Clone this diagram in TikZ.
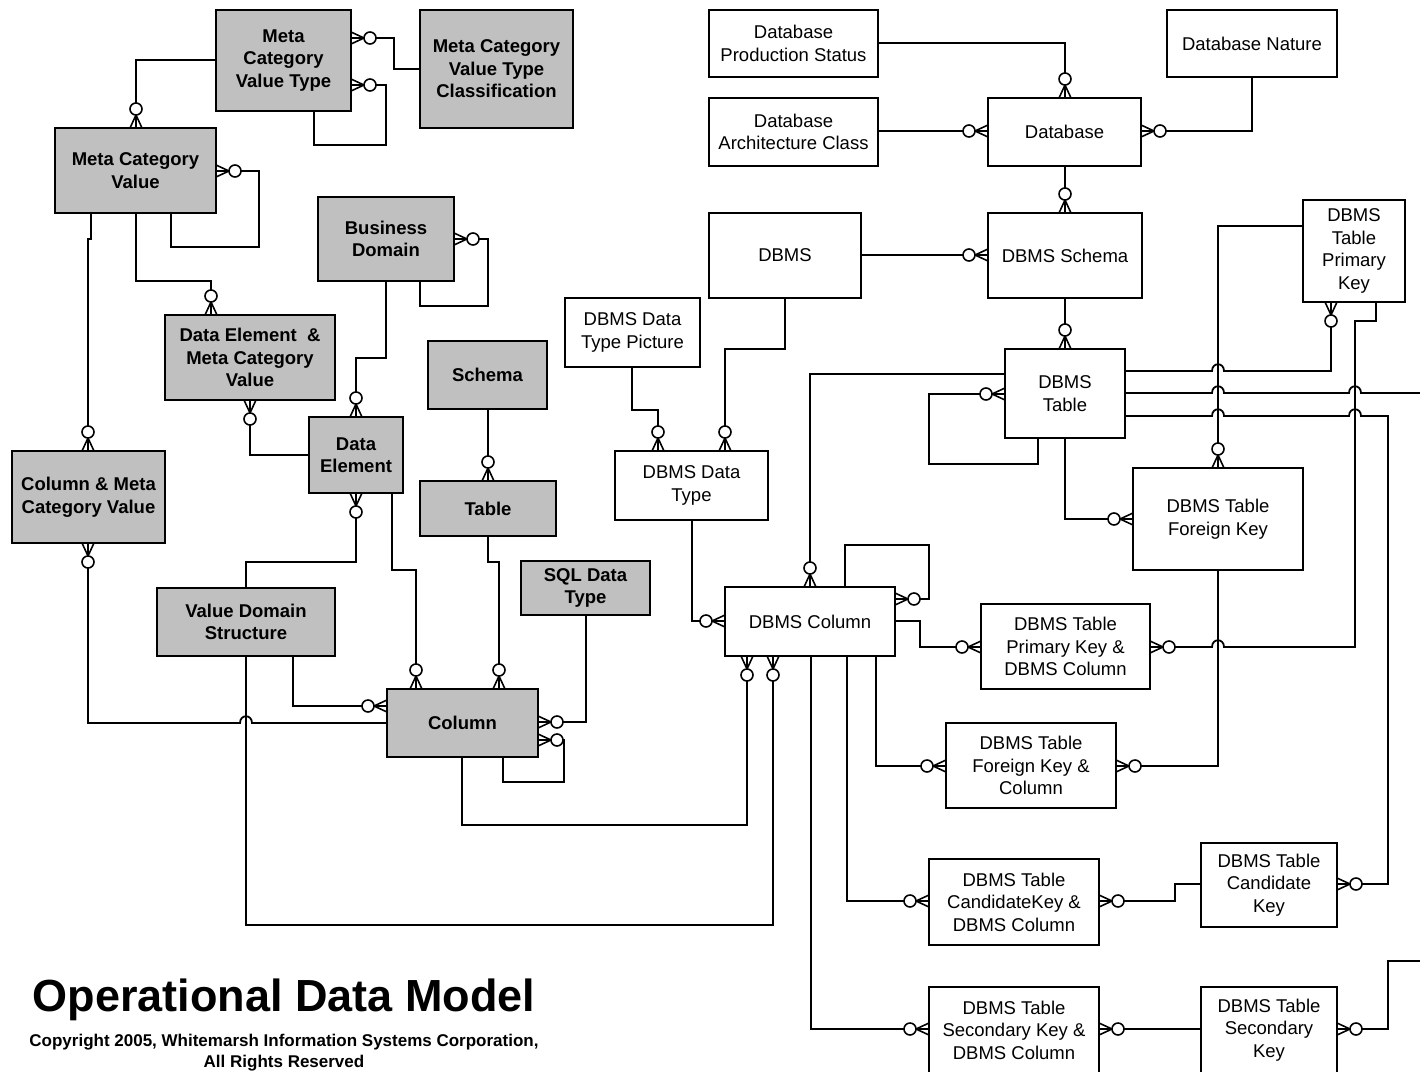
\documentclass[tikz,border=0pt]{standalone}
\usepackage{fontspec}
\setmainfont{Liberation Sans}
\definecolor{gfill}{HTML}{C0C0C0}
% entity box from its corners (x1,y1)-(x2,y2), y measured downwards
\newcommand\erbox[7]{\node[#2, minimum width={#5-#3}, minimum height={#6-#4}] (#1) at ({(#3+#5)/2},{(#4+#6)/2}) {#7};}
% zero-or-many end: crow's foot plus circle, pointing away from the box
\newcommand\zmk[2]{\pic[rotate=#2] at #1 {zm};}
% small jump of a horizontal line (drawn left to right) over a vertical one
\newcommand\hop[2]{-- ({#1-6},#2) .. controls ({#1-6},{#2-9}) and ({#1+6},{#2-9}) .. ({#1+6},#2)}
\tikzset{
  ln/.style={line width=1.8pt},
  ent/.style={draw, line width=1.8pt, inner sep=0pt, outer sep=0pt, align=center},
  gent/.style={ent, fill=gfill, font=\fontsize{18.5}{22.5}\selectfont\bfseries},
  went/.style={ent, fill=white, font=\fontsize{18.5}{22.5}\selectfont},
  zm/.pic={
    \draw[line width=1.6pt] (0pt,6pt) -- (13pt,0pt) -- (0pt,-6pt) (0pt,0pt) -- (13pt,0pt);
    \draw[line width=1.6pt, fill=white] (19pt,0pt) circle[radius=6pt];
  }
}
\begin{document}
\begin{tikzpicture}[x=1pt,y=-1pt]
\useasboundingbox (0,0) rectangle (1420,1071);
\clip (0,0) rectangle (1420,1071);

% ---------- meta model entities ----------
\erbox{mcvt}{gent}{216}{10}{351}{111}{Meta\\Category\\Value Type}
\erbox{mcvtc}{gent}{420}{10}{573}{128}{Meta Category\\Value Type\\Classification}
\erbox{mcv}{gent}{55}{128}{216}{213}{Meta Category\\Value}
\erbox{bd}{gent}{318}{197}{454}{281}{Business\\Domain}
\erbox{demcv}{gent}{165}{315}{335}{400}{Data Element~ \&\\Meta Category\\Value}
\erbox{schema}{gent}{428}{341}{547}{409}{Schema}
\erbox{de}{gent}{309}{417}{403}{493}{Data\\Element}
\erbox{cmcv}{gent}{12}{451}{165}{543}{Column \& Meta\\Category Value}
\erbox{tbl}{gent}{420}{481}{556}{536}{Table}
\erbox{sql}{gent}{521}{561}{650}{615}{SQL Data\\Type}
\erbox{vds}{gent}{157}{588}{335}{656}{Value Domain\\Structure}
\erbox{col}{gent}{387}{689}{538}{757}{Column}

% ---------- operational entities ----------
\erbox{dps}{went}{709}{10}{878}{77}{Database\\Production Status}
\erbox{dn}{went}{1167}{10}{1337}{77}{Database Nature}
\erbox{dac}{went}{709}{98}{878}{166}{Database\\Architecture Class}
\erbox{db}{went}{988}{98}{1141}{166}{Database}
\erbox{dbms}{went}{709}{213}{861}{298}{DBMS}
\erbox{dbmss}{went}{988}{213}{1142}{298}{DBMS Schema}
\erbox{tpk}{went}{1303}{200}{1405}{302}{DBMS\\Table\\Primary\\Key}
\erbox{dtp}{went}{565}{298}{700}{367}{DBMS Data\\Type Picture}
\erbox{dt}{went}{1005}{349}{1125}{438}{DBMS\\Table}
\erbox{ddt}{went}{615}{451}{768}{520}{DBMS Data\\Type}
\erbox{fk}{went}{1133}{468}{1303}{570}{DBMS Table\\Foreign Key}
\erbox{dc}{went}{725}{587}{895}{656}{DBMS Column}
\erbox{pkc}{went}{981}{604}{1150}{689}{DBMS Table\\Primary Key \&\\DBMS Column}
\erbox{fkc}{went}{946}{723}{1116}{808}{DBMS Table\\Foreign Key \&\\Column}
\erbox{ckc}{went}{929}{859}{1099}{945}{DBMS Table\\CandidateKey \&\\DBMS Column}
\erbox{ck}{went}{1201}{843}{1337}{927}{DBMS Table\\Candidate\\Key}
\erbox{skc}{went}{929}{987}{1099}{1073}{DBMS Table\\Secondary Key \&\\DBMS Column}
\erbox{sk}{went}{1201}{987}{1337}{1073}{DBMS Table\\Secondary\\Key}

% free ends leaving the sheet on the right
\coordinate (exitA) at (1425,393);
\coordinate (exitB) at (1425,961);

% ---------- title ----------
\node[anchor=base, inner sep=0pt, font=\fontsize{45}{50}\selectfont\bfseries] (title) at (284,1011) {Operational Data Model};
\node[anchor=base, inner sep=0pt, font=\fontsize{17}{21}\selectfont\bfseries] (copy1) at (284,1046) {Copyright 2005, Whitemarsh Information Systems Corporation,};
\node[anchor=base, inner sep=0pt, font=\fontsize{17}{21}\selectfont\bfseries] (copy2) at (284,1067) {All Rights Reserved};

% ---------- relationships ----------
\draw[ln] (mcvt.west |- 0,60) -| (mcv.north -| 136,0);
\draw[ln] (mcvt.east |- 0,38) -- (394,38) |- (mcvtc.west |- 0,69);
\draw[ln] (mcvt.east |- 0,85) -- (386,85) -- (386,145) -| (mcvt.south -| 314,0);
\draw[ln] (mcv.east |- 0,171) -- (259,171) -- (259,247) -| (mcv.south -| 171,0);
\draw[ln] (mcv.south -| 136,0) |- (211,281) -- (demcv.north -| 211,0);
\draw[ln] (mcv.south -| 91,0) -- (91,239) -- (88,239) -- (cmcv.north -| 88,0);
\draw[ln] (bd.east |- 0,239) -- (488,239) -- (488,306) -| (bd.south -| 420,0);
\draw[ln] (bd.south -| 386,0) |- (356,358) -- (de.north -| 356,0);
\draw[ln] (demcv.south -| 250,0) |- (de.west |- 0,455);
\draw[ln] (de.south -| 356,0) |- (246,562) -- (vds.north -| 246,0);
\draw[ln] (de.south -| 392,0) |- (416,570) -- (col.north -| 416,0);
\draw[ln] (schema.south -| 488,0) -- (tbl.north -| 488,0);
\draw[ln] (tbl.south -| 488,0) |- (499,562) -- (col.north -| 499,0);
\draw[ln] (sql.south -| 586,0) |- (col.east |- 0,722);
\draw[ln] (col.east |- 0,740) -- (564,740) -- (564,782) -| (col.south -| 503,0);
\draw[ln] (vds.south -| 293,0) |- (col.west |- 0,706);
\draw[ln] (cmcv.south -| 88,0) -- (88,723) \hop{246}{723} -- (col.west |- 0,723);
\draw[ln] (vds.south -| 246,0) -- (246,925) -| (dc.south -| 773,0);
\draw[ln] (col.south -| 462,0) -- (462,825) -| (dc.south -| 747,0);
\draw[ln] (ddt.south -| 692,0) |- (dc.west |- 0,621);
\draw[ln] (dtp.south -| 632,0) |- (658,410) -- (ddt.north -| 658,0);
\draw[ln] (dbms.south -| 785,0) |- (725,349) -- (ddt.north -| 725,0);
\draw[ln] (dbms.east |- 0,255) -- (dbmss.west |- 0,255);
\draw[ln] (db.south -| 1065,0) -- (dbmss.north -| 1065,0);
\draw[ln] (dps.east |- 0,43) -| (db.north -| 1065,0);
\draw[ln] (dac.east |- 0,131) -- (db.west |- 0,131);
\draw[ln] (dn.south -| 1252,0) |- (db.east |- 0,131);
\draw[ln] (dbmss.south -| 1065,0) -- (dt.north -| 1065,0);
\draw[ln] (dt.west |- 0,394) -- (929,394) -- (929,464) -| (dt.south -| 1038,0);
\draw[ln] (dt.west |- 0,374) -| (dc.north -| 810,0);
\draw[ln] (dt.south -| 1065,0) |- (fk.west |- 0,519);
\draw[ln] (tpk.west |- 0,226) -| (fk.north -| 1218,0);
\draw[ln] (dt.east |- 0,371) \hop{1218}{371} -- (1331,371) -- (tpk.south -| 1331,0);
\draw[ln] (dt.east |- 0,393) \hop{1218}{393} \hop{1355}{393} -- (exitA);
\draw[ln] (dt.east |- 0,416) \hop{1218}{416} \hop{1355}{416} -- (1388,416) |- (ck.east |- 0,884);
\draw[ln] (pkc.east |- 0,647) \hop{1218}{647} -- (1355,647) |- (1376,321) -- (tpk.south -| 1376,0);
\draw[ln] (dc.east |- 0,621) -- (920,621) |- (pkc.west |- 0,647);
\draw[ln] (dc.east |- 0,599) -- (929,599) -- (929,545) -| (dc.north -| 845,0);
\draw[ln] (fk.south -| 1218,0) |- (fkc.east |- 0,766);
\draw[ln] (dc.south -| 876,0) |- (fkc.west |- 0,766);
\draw[ln] (dc.south -| 847,0) |- (ckc.west |- 0,901);
\draw[ln] (ckc.east |- 0,901) -- (1175,901) |- (ck.west |- 0,884);
\draw[ln] (dc.south -| 811,0) |- (skc.west |- 0,1029);
\draw[ln] (skc.east |- 0,1029) -- (sk.west |- 0,1029);
\draw[ln] (sk.east |- 0,1029) -- (1388,1029) |- (exitB);

% ---------- cardinality marks ----------
\zmk{(mcv.north -| 136,0)}{90}
\zmk{(mcvt.east |- 0,38)}{0}
\zmk{(mcvt.east |- 0,85)}{0}
\zmk{(mcv.east |- 0,171)}{0}
\zmk{(demcv.north -| 211,0)}{90}
\zmk{(cmcv.north -| 88,0)}{90}
\zmk{(bd.east |- 0,239)}{0}
\zmk{(de.north -| 356,0)}{90}
\zmk{(demcv.south -| 250,0)}{-90}
\zmk{(de.south -| 356,0)}{-90}
\zmk{(col.north -| 416,0)}{90}
\zmk{(tbl.north -| 488,0)}{90}
\zmk{(col.north -| 499,0)}{90}
\zmk{(col.east |- 0,722)}{0}
\zmk{(col.east |- 0,740)}{0}
\zmk{(col.west |- 0,706)}{180}
\zmk{(cmcv.south -| 88,0)}{-90}
\zmk{(dc.south -| 773,0)}{-90}
\zmk{(dc.south -| 747,0)}{-90}
\zmk{(dc.west |- 0,621)}{180}
\zmk{(ddt.north -| 658,0)}{90}
\zmk{(ddt.north -| 725,0)}{90}
\zmk{(dbmss.west |- 0,255)}{180}
\zmk{(dbmss.north -| 1065,0)}{90}
\zmk{(db.north -| 1065,0)}{90}
\zmk{(db.west |- 0,131)}{180}
\zmk{(db.east |- 0,131)}{0}
\zmk{(dt.north -| 1065,0)}{90}
\zmk{(dt.west |- 0,394)}{180}
\zmk{(dc.north -| 810,0)}{90}
\zmk{(fk.west |- 0,519)}{180}
\zmk{(fk.north -| 1218,0)}{90}
\zmk{(tpk.south -| 1331,0)}{-90}
\zmk{(ck.east |- 0,884)}{0}
\zmk{(pkc.east |- 0,647)}{0}
\zmk{(pkc.west |- 0,647)}{180}
\zmk{(dc.east |- 0,599)}{0}
\zmk{(fkc.east |- 0,766)}{0}
\zmk{(fkc.west |- 0,766)}{180}
\zmk{(ckc.west |- 0,901)}{180}
\zmk{(ckc.east |- 0,901)}{0}
\zmk{(skc.west |- 0,1029)}{180}
\zmk{(skc.east |- 0,1029)}{0}
\zmk{(sk.east |- 0,1029)}{0}
\end{tikzpicture}
\end{document}
